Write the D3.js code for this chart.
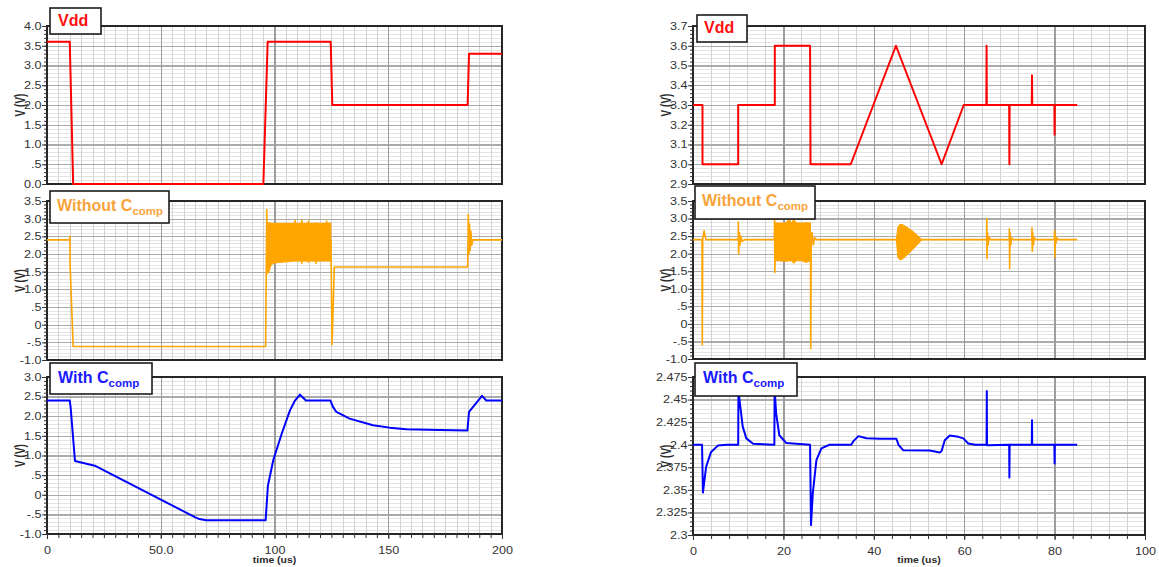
<!DOCTYPE html>
<html><head><meta charset="utf-8">
<script src="https://cdn.jsdelivr.net/npm/d3@7"></script>
<style>
html,body{margin:0;padding:0;background:#fff;}
svg{display:block;}
</style></head>
<body><svg id="chart" width="1159" height="567"></svg>
<script>
// ================= DATA =================
const leftTimeTicks = [0, 50, 100, 150, 200];
const leftTimeLabels = ["0", "50.0", "100", "150", "200"];
const rightTimeTicks = [0, 20, 40, 60, 80, 100];
const rightTimeLabels = ["0", "20", "40", "60", "80", "100"];

const leftVddTicks = [0, 0.5, 1, 1.5, 2, 2.5, 3, 3.5, 4];
const leftVddLabels = ["0.0", ".5", "1.0", "1.5", "2.0", "2.5", "3.0", "3.5", "4.0"];
const noCompTicks = [-1, -0.5, 0, 0.5, 1, 1.5, 2, 2.5, 3, 3.5];
const noCompLabels = ["-1.0", "-.5", "0", ".5", "1.0", "1.5", "2.0", "2.5", "3.0", "3.5"];
const leftCompTicks = [-1, -0.5, 0, 0.5, 1, 1.5, 2, 2.5, 3];
const leftCompLabels = ["-1.0", "-.5", "0", ".5", "1.0", "1.5", "2.0", "2.5", "3.0"];
const rightVddTicks = [2.9, 3.0, 3.1, 3.2, 3.3, 3.4, 3.5, 3.6, 3.7];
const rightVddLabels = ["2.9", "3.0", "3.1", "3.2", "3.3", "3.4", "3.5", "3.6", "3.7"];
const rightCompTicks = [2.3, 2.325, 2.35, 2.375, 2.4, 2.425, 2.45, 2.475];
const rightCompLabels = ["2.3", "2.325", "2.35", "2.375", "2.4", "2.425", "2.45", "2.475"];

// [time (us), V]
const leftVdd = [[0,3.6],[10,3.6],[11.5,0],[95.1,0],[97,3.6],[124.7,3.6],[125.4,2.0],[184.9,2.0],[185.5,3.3],[200,3.3]];

const leftNoComp = [[0,2.4],[10,2.4],[10.05,2.5],[10.15,1.7],[11.5,-0.62],[96.1,-0.62],[96.6,3.25],[96.8,1.45],[97.0,2.4],
  [124.8,2.4],[125.3,-0.57],[126.3,1.63],[184.9,1.63],[185.2,3.12],[185.45,2.0],[185.7,2.85],[186.0,2.1],[186.3,2.65],
  [186.7,2.25],[187.2,2.4],[200,2.4]];
// oscillation envelope [time, lower, upper]
const leftNoCompBurst = [[97.0,1.45,2.9],[97.6,1.5,2.88],[98.3,1.66,2.88],[99.5,1.74,2.87],[102,1.76,2.87],[106,1.78,2.87],
  [108.7,1.8,2.87],[109,1.8,2.96],[109.3,1.8,2.87],[111.7,1.8,2.87],[112,1.72,2.97],[112.3,1.8,2.87],[114.6,1.8,2.87],
  [114.9,1.75,2.95],[115.2,1.8,2.87],[118,1.8,2.87],[118.3,1.72,2.9],[118.6,1.8,2.87],[122.6,1.8,2.87],[122.9,1.8,2.95],
  [123.2,1.8,2.87],[124.8,1.8,2.88]];

const leftWithComp = [[0,2.4],[10,2.4],[10.4,2.22],[12.3,0.86],[21,0.74],[65,-0.57],[67,-0.62],[70,-0.65],[96.1,-0.65],
  [97.1,0.23],[99.5,0.89],[103.2,1.56],[106.8,2.15],[109,2.4],[111.2,2.55],[113.8,2.4],[124.6,2.4],[125.7,2.24],
  [127.2,2.11],[133,1.94],[143.3,1.77],[150.6,1.71],[158,1.67],[172.6,1.65],[184.8,1.64],[185.5,2.11],[187.3,2.24],
  [191.2,2.52],[193.1,2.4],[200,2.4]];

const rightVdd = [[0,3.3],[2.1,3.3],[2.1,3.0],[10,3.0],[10,3.3],[18.1,3.3],[18.1,3.6],[25.9,3.6],[26,3.0],[34.9,3.0],
  [44.9,3.6],[55,3.0],[59.9,3.3],[64.9,3.3],[64.95,3.6],[65.0,3.3],[69.95,3.3],[70.0,3.0],[70.05,3.3],[74.95,3.3],
  [75.0,3.45],[75.05,3.3],[79.95,3.3],[80.0,3.15],[80.05,3.3],[85,3.3]];

const rightNoComp = [[0,2.4],[2.0,2.4],[2.05,-0.6],[2.15,2.4],[2.45,2.65],[2.85,2.4],
  [10.0,2.4],[10.03,2.9],[10.1,2.0],[10.25,2.6],[10.4,2.25],[10.6,2.5],[10.9,2.35],[11.4,2.4],
  [18.0,2.4],[18.05,3.02],[18.1,1.46],[18.25,2.4],
  [26.0,2.4],[26.05,-0.7],[26.15,2.4],[26.35,2.6],[26.6,2.25],[26.9,2.45],[27.3,2.4],
  [64.95,2.4],[65.0,3.0],[65.05,1.86],[65.15,2.6],[65.3,2.25],[65.5,2.48],[65.8,2.4],
  [69.95,2.4],[70.0,2.71],[70.05,1.57],[70.15,2.6],[70.3,2.25],[70.5,2.45],[70.8,2.4],
  [74.95,2.4],[75.0,2.74],[75.05,2.07],[75.15,2.6],[75.3,2.25],[75.5,2.45],[75.8,2.4],
  [79.95,2.4],[80.0,2.66],[80.05,1.9],[80.15,2.55],[80.3,2.3],[80.5,2.45],[80.8,2.4],[85.0,2.4]];
const rightNoCompBurst1 = [[18.25,1.8,2.88],[19,1.8,2.87],[20.5,1.78,2.88],[21.3,1.8,2.98],[21.8,1.8,2.87],
  [22.3,1.72,2.97],[22.8,1.8,2.88],[24,1.8,2.87],[25,1.75,2.88],[26.0,1.8,2.88]];
const rightNoCompBurst2 = [[45.0,2.4,2.4],[45.3,1.9,2.75],[45.8,1.82,2.84],[46.5,1.86,2.82],[48.5,2.1,2.65],[50.6,2.39,2.41]];

const rightWithComp = [[0,2.4],[2.0,2.4],[2.2,2.347],[2.9,2.3755],[4.0,2.392],[5.5,2.399],[7.4,2.4],[10.0,2.4],
  [10.05,2.462],[10.3,2.449],[11.0,2.42],[11.8,2.407],[13.3,2.401],[18.0,2.4],[18.05,2.462],[18.4,2.4345],
  [19.1,2.4105],[20.6,2.402],[25.9,2.4],[26.1,2.311],[26.5,2.346],[27.3,2.383],[28.4,2.396],[30.2,2.4],[35.0,2.4],
  [35.5,2.404],[36.6,2.4095],[38.4,2.4072],[41.4,2.4065],[45.0,2.4065],[45.5,2.3995],[46.5,2.394],[52.4,2.3935],
  [54.6,2.3914],[55.0,2.393],[55.7,2.405],[56.8,2.4102],[58.7,2.4087],[59.8,2.407],[60.9,2.4014],[62.4,2.3999],
  [64.95,2.4],[65.0,2.4595],[65.05,2.3995],[69.95,2.4],[70.0,2.3638],[70.05,2.4],[74.95,2.4],[75.0,2.427],
  [75.05,2.4],[79.95,2.4],[80.0,2.3793],[80.05,2.4],[85,2.4]];

// ================= LAYOUT / STYLE =================
const FONT = "'Liberation Sans', Arial, sans-serif";
const SX = 1.2;           // horizontal stretch of the axis text in the reference
const RED = "#ff0000", ORANGE = "#ffa500", BLUE = "#0000ff";

const panels = [
  {left:47, right:502, top:26, bottom:184, xDomain:[0,200], xTicks:leftTimeTicks, xLabels:leftTimeLabels, xMinorStep:5,
   yDomain:[0,4], yTicks:leftVddTicks, yLabels:leftVddLabels, yMinorStep:0.1, data:leftVdd, bands:[], color:RED, lw:2},
  {left:47, right:502, top:201, bottom:360, xDomain:[0,200], xTicks:leftTimeTicks, xLabels:leftTimeLabels, xMinorStep:5,
   yDomain:[-1,3.5], yTicks:noCompTicks, yLabels:noCompLabels, yMinorStep:0.1, data:leftNoComp, bands:[leftNoCompBurst], color:ORANGE, lw:1.6},
  {left:47, right:502, top:377, bottom:534, xDomain:[0,200], xTicks:leftTimeTicks, xLabels:leftTimeLabels, xMinorStep:5,
   yDomain:[-1,3], yTicks:leftCompTicks, yLabels:leftCompLabels, yMinorStep:0.1, data:leftWithComp, bands:[], color:BLUE, lw:2, bottomAxis:true},
  {left:693, right:1145, top:26, bottom:184, xDomain:[0,100], xTicks:rightTimeTicks, xLabels:rightTimeLabels, xMinorStep:4,
   yDomain:[2.9,3.7], yTicks:rightVddTicks, yLabels:rightVddLabels, yMinorStep:0.02, data:rightVdd, bands:[], color:RED, lw:2},
  {left:693, right:1145, top:201, bottom:359, xDomain:[0,100], xTicks:rightTimeTicks, xLabels:rightTimeLabels, xMinorStep:4,
   yDomain:[-1,3.5], yTicks:noCompTicks, yLabels:noCompLabels, yMinorStep:0.1, data:rightNoComp, bands:[rightNoCompBurst1, rightNoCompBurst2], color:ORANGE, lw:1.6},
  {left:693, right:1145, top:377, bottom:535, xDomain:[0,100], xTicks:rightTimeTicks, xLabels:rightTimeLabels, xMinorStep:4,
   yDomain:[2.3,2.475], yTicks:rightCompTicks, yLabels:rightCompLabels, yMinorStep:0.005, data:rightWithComp, bands:[], color:BLUE, lw:2, bottomAxis:true}
];

const titles = [
  {box:[50,8,101,34], tx:58, ty:26, text:"Vdd", sub:"", color:"#ff1010"},
  {box:[50,191,169,223], tx:57, ty:211, text:"Without C", sub:"comp", color:"#f8a43c"},
  {box:[50,363,152,394], tx:58, ty:383, text:"With C", sub:"comp", color:"#1a1aff"},
  {box:[697,15,747,42], tx:704, ty:33, text:"Vdd", sub:"", color:"#ff1010"},
  {box:[695,186,815,219], tx:702, ty:206, text:"Without C", sub:"comp", color:"#f8a43c"},
  {box:[695,363,797,396], tx:703, ty:383, text:"With C", sub:"comp", color:"#1a1aff"}
];

// ================= DRAW =================
const svg = d3.select("#chart");
svg.append("rect").attr("width",1159).attr("height",567).attr("fill","#fff");
const defs = svg.append("defs");

function stepValues(a, b, s) {
  const n = Math.round((b - a) / s);
  return d3.range(0, n + 1).map(k => +(a + k * s).toFixed(6));
}

panels.forEach((p, i) => {
  const x = d3.scaleLinear().domain(p.xDomain).range([p.left, p.right]);
  const y = d3.scaleLinear().domain(p.yDomain).range([p.bottom, p.top]);
  const W = p.right - p.left, H = p.bottom - p.top;
  const g = svg.append("g");
  g.append("rect").attr("x", p.left).attr("y", p.top).attr("width", W).attr("height", H).attr("fill", "#fff");

  const xMinor = stepValues(p.xDomain[0], p.xDomain[1], p.xMinorStep);
  const yMinor = stepValues(p.yDomain[0], p.yDomain[1], p.yMinorStep);

  function grid(axisGen, translate, color, width) {
    const gg = g.append("g").attr("transform", translate).call(axisGen);
    gg.select(".domain").remove();
    gg.selectAll("line").attr("stroke", color).attr("stroke-width", width).attr("shape-rendering", "crispEdges");
    gg.selectAll("text").remove();
  }
  grid(d3.axisLeft(y).tickValues(yMinor).tickSize(-W).tickFormat(""), `translate(${p.left},0)`, "#e4e4e4", 1);
  grid(d3.axisBottom(x).tickValues(xMinor).tickSize(-H).tickFormat(""), `translate(0,${p.bottom})`, "#d2d2d2", 1);
  grid(d3.axisLeft(y).tickValues(p.yTicks).tickSize(-W).tickFormat(""), `translate(${p.left},0)`, "#ababab", 1.3);
  grid(d3.axisBottom(x).tickValues(p.xTicks).tickSize(-H).tickFormat(""), `translate(0,${p.bottom})`, "#9c9c9c", 1.3);

  // frame
  g.append("rect").attr("x", p.left).attr("y", p.top).attr("width", W).attr("height", H)
    .attr("fill", "none").attr("stroke", "#262626").attr("stroke-width", 2);

  // data (drawn over the frame, as in the reference)
  const clipId = "clip" + i;
  defs.append("clipPath").attr("id", clipId).append("rect")
    .attr("x", p.left).attr("y", p.top - 1.5).attr("width", W).attr("height", H + 3);
  const dg = g.append("g").attr("clip-path", `url(#${clipId})`);
  const area = d3.area().x(d => x(d[0])).y0(d => y(d[1])).y1(d => y(d[2]));
  p.bands.forEach(b => {
    dg.append("path").datum(b).attr("d", area).attr("fill", p.color).attr("stroke", p.color).attr("stroke-width", 1);
  });
  const line = d3.line().x(d => x(d[0])).y(d => y(d[1]));
  dg.append("path").datum(p.data).attr("d", line).attr("fill", "none").attr("stroke", p.color)
    .attr("stroke-width", p.lw).attr("stroke-linejoin", "round");

  // left axis ticks
  const am = g.append("g").attr("transform", `translate(${p.left},0)`)
    .call(d3.axisLeft(y).tickValues(yMinor).tickSize(3).tickFormat(""));
  am.select(".domain").remove();
  am.selectAll("line").attr("stroke", "#333");
  const aM = g.append("g").attr("transform", `translate(${p.left},0)`)
    .call(d3.axisLeft(y).tickValues(p.yTicks).tickSize(5).tickFormat(d => p.yLabels[p.yTicks.indexOf(d)]));
  aM.select(".domain").remove();
  aM.attr("font-family", FONT).attr("font-size", 10.5);
  aM.selectAll("line").attr("stroke", "#333");
  aM.selectAll("text").attr("x", -5.5 / SX).attr("fill", "#333").attr("transform", `scale(${SX},1)`);

  // y label
  g.append("text")
    .attr("transform", `translate(${p.left - 27},${(p.top + p.bottom) / 2}) rotate(-90) scale(1,1.4)`)
    .attr("text-anchor", "middle").attr("dy", "0.35em")
    .attr("font-family", FONT).attr("font-size", 10).attr("font-weight", "bold").attr("fill", "#2a2a2a")
    .text("V (V)");

  if (p.bottomAxis) {
    const bm = g.append("g").attr("transform", `translate(0,${p.bottom})`)
      .call(d3.axisBottom(x).tickValues(xMinor).tickSize(4).tickFormat(""));
    bm.select(".domain").remove();
    bm.selectAll("line").attr("stroke", "#333");
    const bM = g.append("g").attr("transform", `translate(0,${p.bottom})`)
      .call(d3.axisBottom(x).tickValues(p.xTicks).tickSize(5).tickFormat(d => p.xLabels[p.xTicks.indexOf(d)]));
    bM.select(".domain").remove();
    bM.attr("font-family", FONT).attr("font-size", 10.5);
    bM.selectAll("line").attr("stroke", "#333");
    bM.selectAll("text").attr("y", 13).attr("fill", "#333").attr("transform", `scale(${SX},1)`);
    g.append("text")
      .attr("transform", `translate(${(p.left + p.right) / 2},563) scale(1.1,1)`)
      .attr("text-anchor", "middle").attr("font-family", FONT).attr("font-size", 9.5)
      .attr("font-weight", "bold").attr("fill", "#2a2a2a")
      .text("time (us)");
  }
});

// titles
titles.forEach(t => {
  const [x0, y0, x1, y1] = t.box;
  svg.append("rect").attr("x", x0).attr("y", y0).attr("width", x1 - x0).attr("height", y1 - y0)
    .attr("fill", "#fff").attr("stroke", "#1c1c1c").attr("stroke-width", 1.6);
  const tx = svg.append("text").attr("x", t.tx).attr("y", t.ty)
    .attr("font-family", FONT).attr("font-weight", "bold").attr("font-size", 16).attr("fill", t.color);
  tx.append("tspan").text(t.text);
  if (t.sub) tx.append("tspan").attr("font-size", 11.5).attr("dy", 4).text(t.sub);
});
</script>
</body></html>
